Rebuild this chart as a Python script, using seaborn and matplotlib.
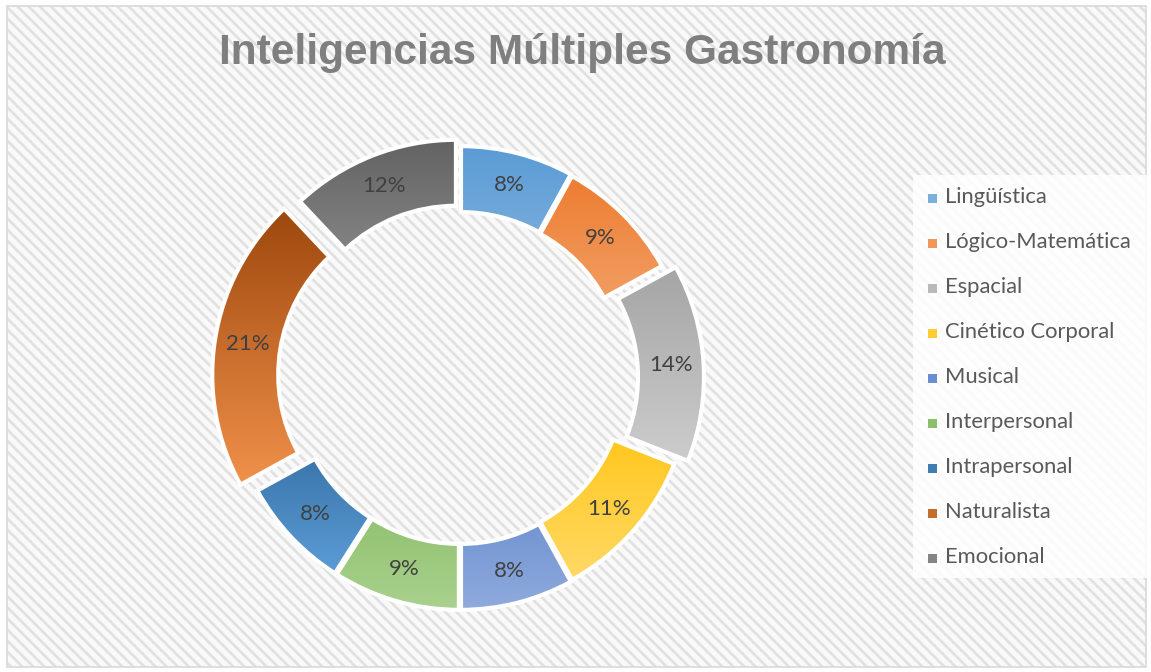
import numpy as np
import seaborn as sns
import matplotlib.pyplot as plt
from matplotlib.patches import Rectangle
from matplotlib.colors import to_rgb

categories = ['Lingüística', 'Lógico-Matemática', 'Espacial', 'Cinético Corporal', 'Musical',
              'Interpersonal', 'Intrapersonal', 'Naturalista', 'Emocional']
values = [8, 9, 14, 11, 8, 9, 8, 21, 12]
# per slice gradient: top colour, bottom colour
top_colors = ['#5b9bd5', '#ed7d31', '#a5a5a5', '#ffc000', '#4472c4', '#70ad47', '#255e91', '#9e480e', '#636363']
bottom_colors = ['#9dc3e6', '#f4b183', '#cccccc', '#ffd966', '#8faadc', '#a9d18e', '#5b9bd5', '#f0914a', '#a5a5a5']
explode_px = [4, 3, 16, 3, 4, 4, 4, 20, 11]
title = 'Inteligencias Múltiples Gastronomía'

W, H = 1151, 672
sns.set_theme(style='white')
plt.rcParams['font.family'] = ['Lato', 'DejaVu Sans']
plt.rcParams['hatch.linewidth'] = 1.9

fig = plt.figure(figsize=(W / 100, H / 100), dpi=100)
fig.patch.set_facecolor('white')
ax = fig.add_axes([0, 0, 1, 1])


def py(y):
    return H - y


# hatched background and border
ax.add_patch(Rectangle((7, py(667)), 1139, 661, facecolor='#f9f9f9', edgecolor='#e1e1e1',
                       hatch='\\\\\\', lw=0, zorder=0))
ax.add_patch(Rectangle((7, py(667)), 1139, 661, facecolor='none', edgecolor='#d9d9d9', lw=1.2, zorder=1))

cx, cy, R, width = 460, py(378), 228, 66
wedges, texts, autotexts = ax.pie(
    values, center=(cx, cy), radius=R, startangle=90, counterclock=False,
    explode=explode_px, autopct='%.0f%%', pctdistance=1 - width / 2 / R,
    wedgeprops=dict(width=width, edgecolor='white', linewidth=3),
    textprops=dict(color='#404040', fontsize=16), frame=True)

for w, c0, c1 in zip(wedges, top_colors, bottom_colors):
    verts = w.get_path().vertices
    x0, y0 = verts.min(axis=0)
    x1, y1 = verts.max(axis=0)
    t = np.linspace(0, 1, 64)[:, None]
    grad = (1 - t) * np.array(to_rgb(c1)) + t * np.array(to_rgb(c0))
    im = ax.imshow(grad[:, None, :], extent=(x0, x1, y0, y1), origin='lower',
                   aspect='auto', zorder=2, interpolation='bilinear')
    im.set_clip_path(w)
    w.set_facecolor('none')
    w.set_zorder(3)
for t in autotexts:
    t.set_zorder(4)

ax.set_xlim(0, W)
ax.set_ylim(0, H)
ax.set_axis_off()

# legend
ax.add_patch(Rectangle((913, py(578)), 238, 403, facecolor='white', edgecolor='none', alpha=0.85, zorder=1))
for i, (name, c0, c1) in enumerate(zip(categories, top_colors, bottom_colors)):
    y = 198 + 45 * i
    mid = (np.array(to_rgb(c0)) + np.array(to_rgb(c1))) / 2
    ax.add_patch(Rectangle((928, py(y) - 4.5), 9, 9, facecolor=mid, edgecolor='none', zorder=3))
    ax.text(945, py(y) + 1, name, fontsize=15.8, color='#595959', va='center', ha='left', zorder=3)

ax.text(582, py(53), title, fontsize=30.5, fontweight='bold', color='#7f7f7f',
        family=['Liberation Sans', 'DejaVu Sans'], ha='center', va='center', zorder=3)

fig.savefig('out.png', dpi=100)
